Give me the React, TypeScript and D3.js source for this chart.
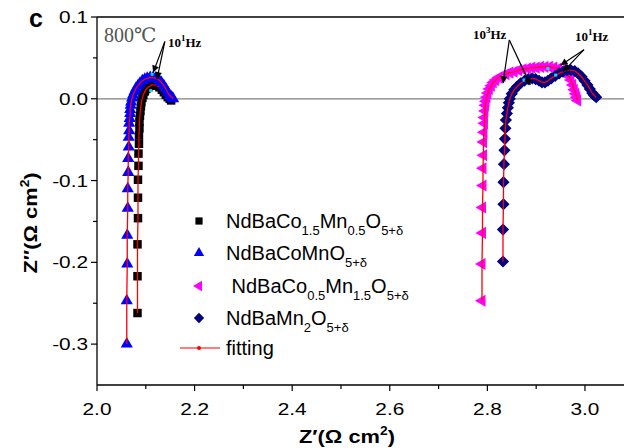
import React from "react";
import * as d3 from "d3";

const W = 624;
const H = 448;

// Z' (ohm cm2) , Z'' (ohm cm2)
const co15mn05: [number, number][] = [
  [2.083, -0.262], [2.083, -0.217], [2.083, -0.178], [2.084, -0.146], [2.084, -0.121],
  [2.084, -0.099], [2.085, -0.082], [2.085, -0.067], [2.086, -0.055], [2.086, -0.045],
  [2.087, -0.036], [2.087, -0.028], [2.088, -0.021], [2.089, -0.015], [2.090, -0.009],
  [2.091, -0.004], [2.093, 0.001], [2.095, 0.005], [2.098, 0.009], [2.101, 0.012],
  [2.105, 0.014], [2.109, 0.016], [2.113, 0.017], [2.118, 0.017], [2.123, 0.016],
  [2.128, 0.014], [2.133, 0.011], [2.137, 0.008], [2.141, 0.005], [2.145, 0.002],
  [2.149, 0.000], [2.152, -0.002],
];
const coMn: [number, number][] = [
  [2.061, -0.300], [2.061, -0.247], [2.062, -0.202], [2.062, -0.167], [2.063, -0.134],
  [2.063, -0.110], [2.064, -0.090], [2.064, -0.073], [2.065, -0.059], [2.065, -0.047],
  [2.066, -0.039], [2.066, -0.030], [2.067, -0.024], [2.068, -0.018], [2.068, -0.013],
  [2.069, -0.008], [2.070, -0.004], [2.072, 0.001], [2.074, 0.005], [2.077, 0.009],
  [2.080, 0.013], [2.084, 0.016], [2.088, 0.019], [2.093, 0.022], [2.098, 0.024],
  [2.103, 0.025], [2.109, 0.026], [2.115, 0.026], [2.121, 0.025], [2.127, 0.023],
  [2.132, 0.020], [2.137, 0.016], [2.141, 0.012], [2.145, 0.008], [2.149, 0.004],
  [2.153, 0.002], [2.156, 0.000],
];
const co05mn15: [number, number][] = [
  [2.789, -0.247], [2.789, -0.202], [2.790, -0.164], [2.790, -0.133], [2.791, -0.106],
  [2.791, -0.085], [2.792, -0.069], [2.792, -0.053], [2.793, -0.041], [2.794, -0.030],
  [2.794, -0.023], [2.795, -0.015], [2.796, -0.008], [2.797, -0.003], [2.799, 0.002],
  [2.801, 0.007], [2.804, 0.012], [2.808, 0.016], [2.812, 0.020], [2.817, 0.023],
  [2.823, 0.026], [2.830, 0.028], [2.838, 0.030], [2.846, 0.032], [2.855, 0.033],
  [2.864, 0.035], [2.873, 0.036], [2.882, 0.037], [2.891, 0.038], [2.900, 0.038],
  [2.909, 0.039], [2.918, 0.039], [2.927, 0.039], [2.936, 0.038], [2.945, 0.037],
  [2.953, 0.035], [2.960, 0.032], [2.966, 0.028], [2.971, 0.023], [2.975, 0.017],
  [2.978, 0.011], [2.981, 0.006], [2.983, 0.002], [2.985, -0.002],
];
const mn2: [number, number][] = [
  [2.832, -0.199], [2.832, -0.160], [2.833, -0.129], [2.833, -0.102], [2.834, -0.080],
  [2.835, -0.063], [2.836, -0.049], [2.837, -0.036], [2.838, -0.026], [2.840, -0.018],
  [2.842, -0.011], [2.844, -0.005], [2.846, 0.000], [2.850, 0.006], [2.855, 0.011],
  [2.861, 0.015], [2.868, 0.019], [2.876, 0.022], [2.884, 0.024], [2.892, 0.025],
  [2.899, 0.024], [2.906, 0.022], [2.912, 0.020], [2.918, 0.020], [2.924, 0.022],
  [2.931, 0.025], [2.939, 0.028], [2.947, 0.031], [2.955, 0.033], [2.963, 0.035],
  [2.971, 0.035], [2.979, 0.034], [2.986, 0.031], [2.993, 0.027], [2.999, 0.022],
  [3.005, 0.017], [3.010, 0.012], [3.015, 0.007], [3.019, 0.004], [3.023, 0.002],
];

// frequency points marked in cyan
const cyanPts: [number, number][] = [
  [2.113, 0.030], [2.110, 0.010], [2.833, 0.027], [2.875, 0.023], [2.924, 0.037], [2.940, 0.029],
];

const xMajor = [2.0, 2.2, 2.4, 2.6, 2.8, 3.0];
const xMinor = [2.1, 2.3, 2.5, 2.7, 2.9];
const yMajor = [0.1, 0.0, -0.1, -0.2, -0.3];
const yMinor = [0.05, -0.05, -0.15, -0.25];

// [text, subscript?]
const legendLabels: [string, boolean][][] = [
  [["NdBaCo", false], ["1.5", true], ["Mn", false], ["0.5", true], ["O", false], ["5+δ", true]],
  [["NdBaCoMnO", false], ["5+δ", true]],
  [[" NdBaCo", false], ["0.5", true], ["Mn", false], ["1.5", true], ["O", false], ["5+δ", true]],
  [["NdBaMn", false], ["2", true], ["O", false], ["5+δ", true]],
  [["fitting", false]],
];

// arrows, data units: [fromX, fromY, toX, toY]
const arrows = [
  [2.139, 0.070, 2.115, 0.032],
  [2.139, 0.070, 2.123, 0.024],
  [2.845, 0.072, 2.832, 0.019],
  [2.845, 0.072, 2.888, 0.017],
  [2.998, 0.060, 2.950, 0.041],
  [2.998, 0.060, 2.955, 0.033],
];

const sans = "'Liberation Sans', Arial, sans-serif";
const serif = "'Liberation Serif', 'DejaVu Serif', serif";

const App = () => {
  const x = d3.scaleLinear().domain([2.0, 3.08]).range([97, W]);
  const y = d3.scaleLinear().domain([-0.35, 0.1]).range([385, 17]);
  const line = d3
    .line<[number, number]>()
    .x((d) => x(d[0]))
    .y((d) => y(d[1]));

  const square = d3.symbol(d3.symbolSquare, 72)();
  const tri = d3.symbol(d3.symbolTriangle, 64)();
  const diamond = d3.symbol(d3.symbolSquare, 74)();

  const series = [
    { data: co15mn05, color: "#000000", shape: square, rot: 0 },
    { data: coMn, color: "#0000ff", shape: tri, rot: 0 },
    { data: co05mn15, color: "#ff00ff", shape: tri, rot: -90 },
    { data: mn2, color: "#000080", shape: diamond, rot: 45 },
  ];

  const legY = [221, 253, 286, 318, 348];

  return (
    <svg
      width={W}
      height={H}
      style={{ position: "absolute", left: 0, top: 0, background: "#fff" }}
      fontFamily={sans}
    >
      <defs>
        <marker id="ah" viewBox="0 0 10 10" refX="10" refY="5" markerWidth="9" markerHeight="7" orient="auto" markerUnits="userSpaceOnUse">
          <path d="M0,0 L10,5 L0,10 z" fill="#000" />
        </marker>
      </defs>
      <rect width={W} height={H} fill="#fff" />

      {/* zero line */}
      <line x1={97} x2={W} y1={y(0)} y2={y(0)} stroke="#808080" strokeWidth={1.2} />

      {series.map((s, i) => (
        <g key={i}>
          {s.data.map((d, j) => (
            <path
              key={j}
              d={s.shape}
              fill={s.color}
              transform={`translate(${x(d[0])},${y(d[1])}) rotate(${s.rot})`}
            />
          ))}
          <path d={line(s.data) || ""} fill="none" stroke="#ff0000" strokeWidth={1.3} />
        </g>
      ))}

      {cyanPts.map((d, i) => (
        <rect key={i} x={x(d[0]) - 1.5} y={y(d[1]) - 1.5} width={3} height={3} fill="#00e0ff" />
      ))}

      {arrows.map((a, i) => (
        <line
          key={i}
          x1={x(a[0])}
          y1={y(a[1])}
          x2={x(a[2])}
          y2={y(a[3])}
          stroke="#000"
          strokeWidth={1.2}
          markerEnd="url(#ah)"
        />
      ))}

      {/* frame */}
      <line x1={97} x2={W} y1={17} y2={17} stroke="#000" strokeWidth={1.3} />
      <line x1={97} x2={W} y1={385} y2={385} stroke="#000" strokeWidth={1.3} />
      <line x1={97} x2={97} y1={17} y2={385} stroke="#000" strokeWidth={1.3} />

      {/* x axis */}
      {xMajor.map((t) => (
        <g key={t}>
          <line x1={x(t)} x2={x(t)} y1={385} y2={391} stroke="#000" strokeWidth={1.2} />
          <text
            transform={`translate(${x(t)},${415}) scale(1.3,1)`}
            textAnchor="middle"
            fontSize={16}
          >
            {t.toFixed(1)}
          </text>
        </g>
      ))}
      {xMinor.map((t) => (
        <line key={t} x1={x(t)} x2={x(t)} y1={385} y2={389} stroke="#000" strokeWidth={1.2} />
      ))}

      {/* y axis */}
      {yMajor.map((t) => (
        <g key={t}>
          <line x1={91} x2={97} y1={y(t)} y2={y(t)} stroke="#000" strokeWidth={1.2} />
          <text
            transform={`translate(${88},${y(t) + 6}) scale(1.3,1)`}
            textAnchor="end"
            fontSize={16}
          >
            {t.toFixed(1)}
          </text>
        </g>
      ))}
      {yMinor.map((t) => (
        <line key={t} x1={93} x2={97} y1={y(t)} y2={y(t)} stroke="#000" strokeWidth={1.2} />
      ))}

      {/* axis titles */}
      <text transform="translate(347,443) scale(1.15,1)" textAnchor="middle" fontSize={19} fontWeight="bold">
        Z′(Ω cm<tspan dy={-8} fontSize={12}>2</tspan><tspan dy={8}>)</tspan>
      </text>
      <text transform="translate(37,223) rotate(-90) scale(1.15,1)" textAnchor="middle" fontSize={19} fontWeight="bold">
        Z′′(Ω cm<tspan dy={-8} fontSize={12}>2</tspan><tspan dy={8}>)</tspan>
      </text>

      <text x={29} y={27} fontSize={25} fontWeight="bold">c</text>

      {/* annotations */}
      <text x={104} y={42} fontFamily={serif} fontSize={20} fill="#555">800℃</text>
      <text x={168} y={47} fontFamily={serif} fontSize={13} fontWeight="bold">
        10<tspan dy={-6} fontSize={9}>1</tspan><tspan dy={6}>Hz</tspan>
      </text>
      <text x={473} y={39} fontFamily={serif} fontSize={13} fontWeight="bold">
        10<tspan dy={-6} fontSize={9}>3</tspan><tspan dy={6}>Hz</tspan>
      </text>
      <text x={575} y={41} fontFamily={serif} fontSize={13} fontWeight="bold">
        10<tspan dy={-6} fontSize={9}>1</tspan><tspan dy={6}>Hz</tspan>
      </text>

      {/* legend */}
      {legendLabels.map((parts, i) => (
        <g key={i}>
          {i < 4 ? (
            <path
              d={series[i].shape}
              fill={series[i].color}
              transform={`translate(199,${legY[i]}) rotate(${series[i].rot}) scale(0.85)`}
            />
          ) : (
            <g>
              <line x1={180} x2={220} y1={legY[i]} y2={legY[i]} stroke="#ff5050" strokeWidth={1.5} />
              <circle cx={199} cy={legY[i]} r={2} fill="#ff0000" />
            </g>
          )}
          <text x={226} y={legY[i] + 7} fontSize={20} style={{ whiteSpace: "pre" }}>
            {parts.map((p, k) => {
              const prevSub = k > 0 && parts[k - 1][1];
              const dy = p[1] ? (prevSub ? 0 : 7) : prevSub ? -7 : 0;
              return (
                <tspan key={k} dy={dy} fontSize={p[1] ? 13 : 20}>
                  {p[0]}
                </tspan>
              );
            })}
          </text>
        </g>
      ))}
    </svg>
  );
};

export default App;
